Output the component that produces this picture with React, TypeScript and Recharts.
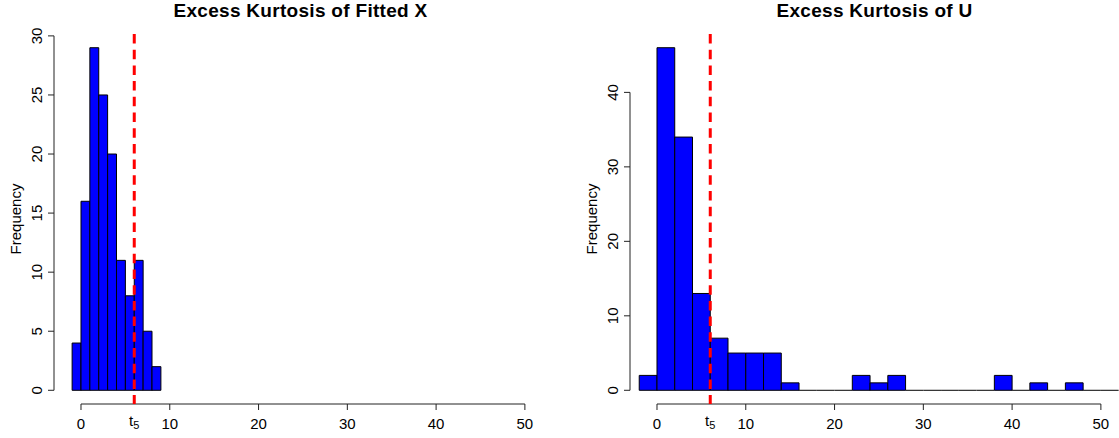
import React from 'react';
import { ComposedChart, XAxis, YAxis, ReferenceArea, ReferenceLine } from 'recharts';

const FONT = '"Liberation Sans", Arial, Helvetica, sans-serif';

// ---- Left panel: Excess Kurtosis of Fitted X ----
const fittedXTitle = 'Excess Kurtosis of Fitted X';
const fittedXBreaks = [-1, 0, 1, 2, 3, 4, 5, 6, 7, 8, 9];
const fittedXCounts = [4, 16, 29, 25, 20, 11, 8, 11, 5, 2];
const fittedXYTicks = [0, 5, 10, 15, 20, 25, 30];

// ---- Right panel: Excess Kurtosis of U ----
const uTitle = 'Excess Kurtosis of U';
const uBreaks = [-2, 0, 2, 4, 6, 8, 10, 12, 14, 16, 18, 20, 22, 24, 26, 28, 30, 32, 34, 36, 38, 40, 42, 44, 46, 48, 50, 52];
const uCounts = [2, 46, 34, 13, 7, 5, 5, 5, 1, 0, 0, 0, 2, 1, 2, 0, 0, 0, 0, 0, 2, 0, 1, 0, 1, 0, 0];
const uYTicks = [0, 10, 20, 30, 40];

// ---- Shared x axis ----
const xTicks = [0, 10, 20, 30, 40, 50];
const xLimits = [-1, 50];
const t5Value = 6;
const yLabel = 'Frequency';

const BLUE = '#0000FF';
const RED = '#FF0000';
const AXIS = '#222222';

const XTick = (props: any) => {
  const { x, y, payload } = props;
  return (
    <text x={x} y={y} dy={17} textAnchor="middle" fontSize={15} fill="#000" fontFamily={FONT}>
      {payload.value}
    </text>
  );
};

const YTick = (props: any) => {
  const { x, y, payload } = props;
  const bx = x - 3.6;
  return (
    <text
      x={bx}
      y={y}
      transform={`rotate(-90 ${bx} ${y})`}
      textAnchor="middle"
      fontSize={15}
      fill="#000"
      fontFamily={FONT}
    >
      {payload.value}
    </text>
  );
};

const FreqLabel = (props: any) => {
  const vb = props.viewBox || {};
  const bx = vb.x + vb.width - 33;
  const cy = vb.y + vb.height / 2;
  return (
    <text
      x={bx}
      y={cy}
      transform={`rotate(-90 ${bx} ${cy})`}
      textAnchor="middle"
      fontSize={15}
      fill="#000"
      fontFamily={FONT}
    >
      {yLabel}
    </text>
  );
};

const T5Label = (props: any) => {
  const vb = props.viewBox || {};
  const cx = vb.x + (vb.width || 0) / 2;
  const by = vb.y + vb.height + 22;
  return (
    <text x={cx} y={by} textAnchor="middle" fontSize={15} fill="#000" fontFamily={FONT}>
      <tspan>t</tspan>
      <tspan fontSize={11} dy={3}>5</tspan>
    </text>
  );
};

type HistProps = {
  title: string;
  breaks: number[];
  counts: number[];
  yTicks: number[];
  left: number;
  width: number;
  yAxisWidth: number;
  marginRight: number;
  titleShift: number;
};

const Histogram = ({ title, breaks, counts, yTicks, left, width, yAxisWidth, marginRight, titleShift }: HistProps) => {
  const height = 438;
  const top = 34;
  const xAxisHeight = 34;
  const xPad = (xLimits[1] - xLimits[0]) * 0.04;
  const xMin = xLimits[0] - xPad;
  const xMax = xLimits[1] + xPad;
  const maxCount = Math.max(...counts);
  const yPad = maxCount * 0.04;
  const yMin = -yPad;
  const yMax = maxCount + yPad;

  const rows = counts.map((c, i) => ({ start: breaks[i], end: breaks[i + 1], mid: (breaks[i] + breaks[i + 1]) / 2, count: c }));
  const plotLeft = yAxisWidth;
  const plotWidth = width - yAxisWidth - marginRight;

  return (
    <div style={{ position: 'absolute', left, top: 0, width, height }}>
      <div
        style={{
          position: 'absolute',
          left: plotLeft + titleShift,
          width: plotWidth,
          top: 1,
          textAlign: 'center',
          fontFamily: FONT,
          fontWeight: 'bold',
          fontSize: 19,
          lineHeight: '19px',
          letterSpacing: 0.3,
          color: '#000',
          whiteSpace: 'nowrap',
        }}
      >
        {title}
      </div>
      <ComposedChart
        width={width}
        height={height}
        data={rows}
        margin={{ top, right: marginRight, bottom: 0, left: 0 }}
        style={{ position: 'absolute', left: 0, top: 0 }}
      >
        <XAxis
          type="number"
          dataKey="mid"
          domain={[xMin, xMax]}
          allowDataOverflow
          ticks={xTicks}
          interval={0}
          tickSize={6}
          tickMargin={2}
          axisLine={false}
          tickLine={{ stroke: AXIS, strokeWidth: 1 }}
          tick={<XTick />}
          height={xAxisHeight}
        />
        <YAxis
          type="number"
          dataKey="count"
          domain={[yMin, yMax]}
          allowDataOverflow
          ticks={yTicks}
          interval={0}
          tickSize={6}
          tickMargin={2}
          axisLine={false}
          tickLine={{ stroke: AXIS, strokeWidth: 1 }}
          tick={<YTick />}
          width={yAxisWidth}
          label={<FreqLabel />}
        />
        {rows
          .filter((r) => r.count === 0)
          .map((r, i) => (
            <ReferenceLine
              key={`z${i}`}
              segment={[
                { x: r.start, y: 0 },
                { x: Math.min(r.end, xMax), y: 0 },
              ]}
              stroke="#000"
              strokeWidth={1}
              ifOverflow="visible"
            />
          ))}
        {rows
          .filter((r) => r.count > 0)
          .map((r, i) => (
            <ReferenceArea
              key={`b${i}`}
              x1={r.start}
              x2={r.end}
              y1={0}
              y2={r.count}
              fill={BLUE}
              fillOpacity={1}
              stroke="#000"
              strokeWidth={1}
              strokeOpacity={1}
              ifOverflow="visible"
            />
          ))}
        {/* R-style axis lines spanning first to last tick */}
        <ReferenceLine
          segment={[
            { x: xTicks[0], y: yMin },
            { x: xTicks[xTicks.length - 1], y: yMin },
          ]}
          stroke={AXIS}
          strokeWidth={1}
          ifOverflow="visible"
        />
        <ReferenceLine
          segment={[
            { x: xMin, y: yTicks[0] },
            { x: xMin, y: yTicks[yTicks.length - 1] },
          ]}
          stroke={AXIS}
          strokeWidth={1}
          ifOverflow="visible"
        />
        <ReferenceLine
          segment={[
            { x: t5Value, y: yMax },
            { x: t5Value, y: yMin },
          ]}
          stroke={RED}
          strokeWidth={3}
          strokeDasharray="9.5 6.2"
          ifOverflow="visible"
          label={<T5Label />}
        />
      </ComposedChart>
    </div>
  );
};

export default function App() {
  return (
    <div style={{ position: 'absolute', left: 0, top: 0, width: 1119, height: 438, background: '#fff', overflow: 'hidden' }}>
      <Histogram
        title={fittedXTitle}
        breaks={fittedXBreaks}
        counts={fittedXCounts}
        yTicks={fittedXYTicks}
        left={0}
        width={560}
        yAxisWidth={54}
        marginRight={17}
        titleShift={2}
      />
      <Histogram
        title={uTitle}
        breaks={uBreaks}
        counts={uCounts}
        yTicks={uYTicks}
        left={560}
        width={559}
        yAxisWidth={70}
        marginRight={0}
        titleShift={0}
      />
    </div>
  );
}
